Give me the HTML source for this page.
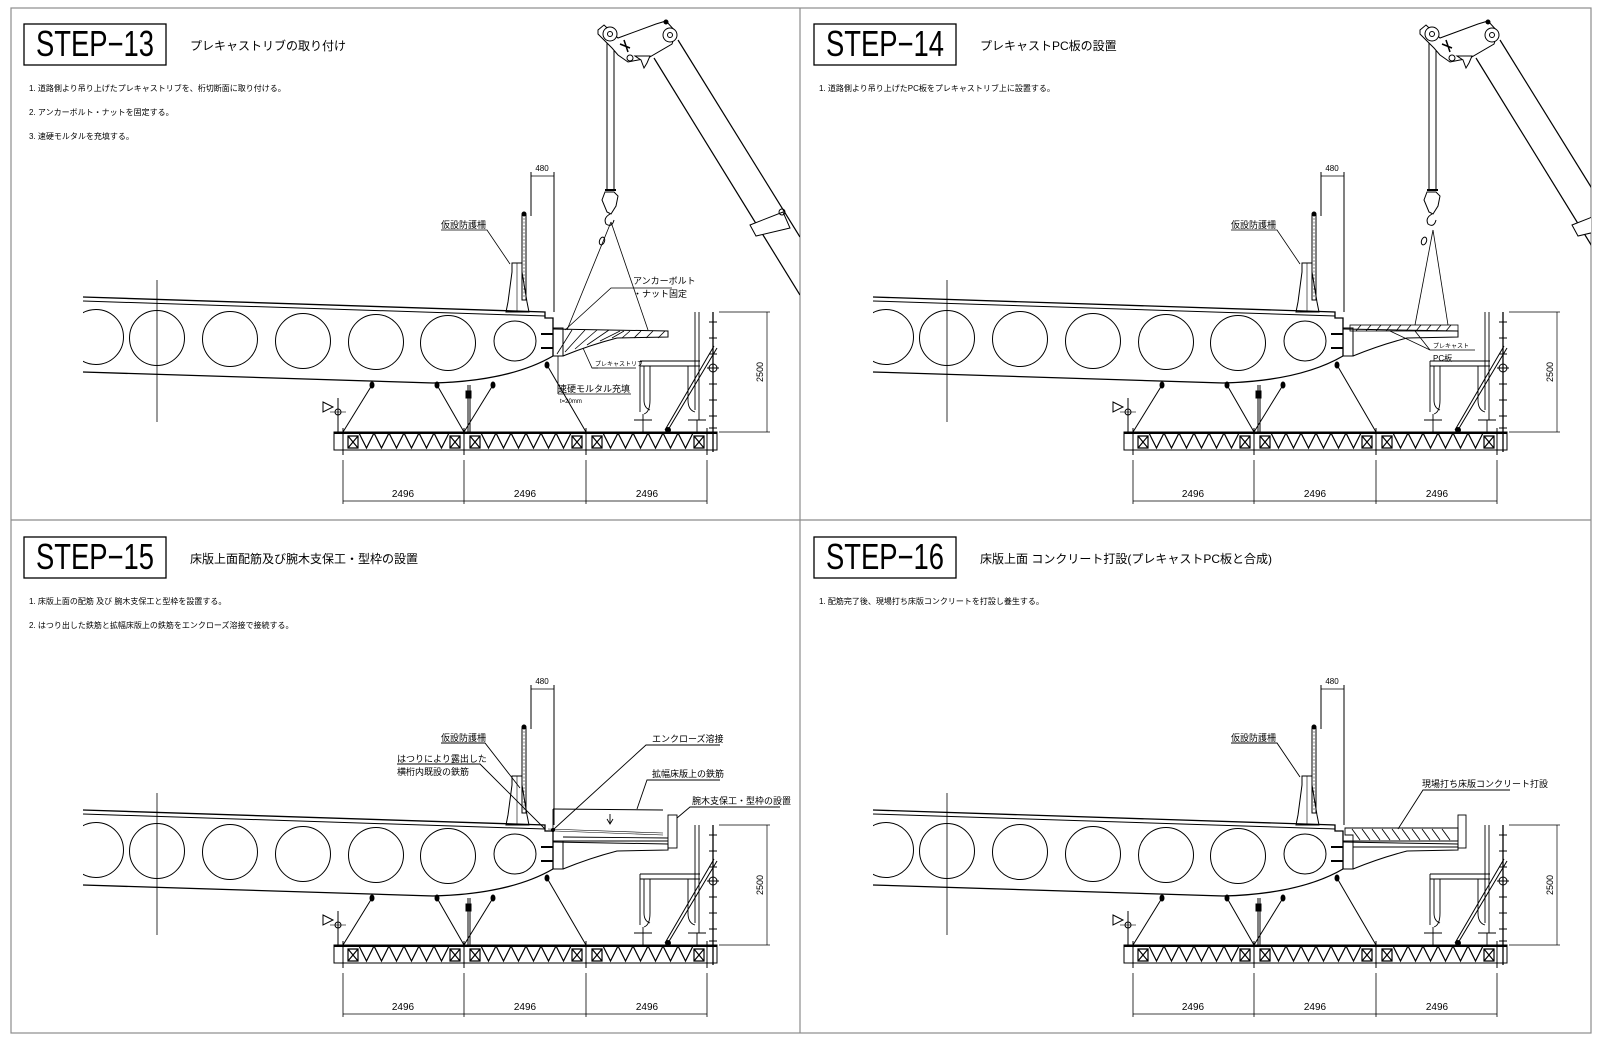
<!DOCTYPE html>
<html><head><meta charset="utf-8"><style>
html,body{margin:0;padding:0;background:#fff;}
svg{display:block;}
text{font-family:"Liberation Sans","Noto Sans CJK JP",sans-serif;fill:#000;}
.nar{font-family:"Liberation Sans Narrow","Liberation Sans",sans-serif;}
</style></head><body>
<svg width="1600" height="1045" viewBox="0 0 1600 1045" xmlns="http://www.w3.org/2000/svg">
<defs>
<clipPath id="c1"><rect x="11" y="8" width="789" height="512"/></clipPath>
<clipPath id="c2"><rect x="800" y="8" width="791" height="512"/></clipPath>
<clipPath id="c3"><rect x="11" y="520" width="789" height="513"/></clipPath>
<clipPath id="c4"><rect x="800" y="520" width="791" height="513"/></clipPath>
<clipPath id="gclip"><rect x="83" y="200" width="700" height="250"/></clipPath>
<g id="base" fill="none" stroke="#000" stroke-width="1">
  <!-- girder -->
  <path d="M83 297 L545 312 L545 318 L553 318 L553 356" stroke-width="1.3"/>
  <path d="M83 301 L545 316"/>
  <path d="M83 372 L433 383 Q510 381 553 356" stroke-width="1.3"/>
  <g clip-path="url(#gclip)">
    <circle cx="96" cy="337" r="27.5"/>
  </g>
  <circle cx="157" cy="338" r="27.5"/>
  <circle cx="230" cy="339" r="27.5"/>
  <circle cx="303" cy="341" r="27.5"/>
  <circle cx="376" cy="342" r="27.5"/>
  <circle cx="448" cy="343" r="27.5"/>
  <ellipse cx="515" cy="341" rx="21" ry="20"/>
  <line x1="157" y1="280" x2="157" y2="422" stroke-width="0.8"/>
  <!-- anchor stubs -->
  <line x1="541" y1="334" x2="553" y2="334" stroke-width="2"/>
  <line x1="541" y1="348" x2="553" y2="348" stroke-width="2"/>
  <!-- rib base block -->
  <path d="M553 328 L563 328 L563 356 L553 356"/>
  <path d="M553 329 L668 331 L668 337 L617 338 Q590 345 563 356"/>
  <!-- fence -->
  <path d="M506 312 L529 312 L527 302 L522 272 L522 263 L512 263 L512 272 L508 302 Z"/>
  <line x1="517" y1="263" x2="517" y2="312" stroke-width="0.6"/>
  <rect x="522" y="215" width="4" height="85" stroke-width="1"/>
  <circle cx="524" cy="214" r="2" fill="#000"/>
  <line x1="524" y1="218" x2="524" y2="298" stroke-width="0.5" stroke-dasharray="2 1.5"/>
  <!-- dim 480 -->
  <line x1="531" y1="172" x2="531" y2="216"/>
  <line x1="554" y1="172" x2="554" y2="312"/>
  <line x1="531" y1="176" x2="554" y2="176" stroke-width="0.7"/>
  <!-- hangers -->
  <line x1="372" y1="385" x2="343" y2="432"/>
  <line x1="437" y1="385" x2="464" y2="432"/>
  <line x1="493" y1="385" x2="464" y2="432"/>
  <line x1="547" y1="365" x2="586" y2="432"/>
  <line x1="468" y1="385" x2="468" y2="432"/>
  <line x1="470" y1="385" x2="470" y2="432"/>
  <ellipse cx="372" cy="385" rx="2" ry="3" fill="#000"/>
  <ellipse cx="437" cy="385" rx="2" ry="3" fill="#000"/>
  <ellipse cx="493" cy="385" rx="2" ry="3" fill="#000"/>
  <ellipse cx="547" cy="365" rx="2" ry="3" fill="#000"/>
  <rect x="466" y="391" width="5" height="7" fill="#000"/>
  <!-- left symbol -->
  <path d="M323 402 L333 407 L323 412 Z"/>
  <line x1="338" y1="398" x2="338" y2="432"/>
  <circle cx="338" cy="412" r="3"/>
  <line x1="330" y1="412" x2="346" y2="412" stroke-width="0.6"/>
  <!-- truss -->
  <rect x="334" y="432" width="383" height="18"/>
  <line x1="334" y1="433" x2="717" y2="433" stroke-width="2"/>
  <line x1="464" y1="428" x2="464" y2="455"/>
  <line x1="586" y1="428" x2="586" y2="455"/>
  <line x1="343" y1="428" x2="343" y2="455"/>
  <line x1="707" y1="428" x2="707" y2="455"/>
  <g stroke-width="1.2">
    <path d="M348 436 h10 v12 h-10 z M348 436 l10 12 M358 436 l-10 12"/>
    <path d="M450 436 h10 v12 h-10 z M450 436 l10 12 M460 436 l-10 12"/>
    <path d="M359 433 l7.5 15 l7.5 -15 l7.5 15 l7.5 -15 l7.5 15 l7.5 -15 l7.5 15 l7.5 -15 l7.5 15 l7.5 -15 l7.5 15 l7.5 -15"/>
    <path d="M470 436 h10 v12 h-10 z M470 436 l10 12 M480 436 l-10 12"/>
    <path d="M572 436 h10 v12 h-10 z M572 436 l10 12 M582 436 l-10 12"/>
    <path d="M481 433 l7.5 15 l7.5 -15 l7.5 15 l7.5 -15 l7.5 15 l7.5 -15 l7.5 15 l7.5 -15 l7.5 15 l7.5 -15 l7.5 15 l7.5 -15"/>
    <path d="M592 436 h10 v12 h-10 z M592 436 l10 12 M602 436 l-10 12"/>
    <path d="M694 436 h10 v12 h-10 z M694 436 l10 12 M704 436 l-10 12"/>
    <path d="M603 433 l7.5 15 l7.5 -15 l7.5 15 l7.5 -15 l7.5 15 l7.5 -15 l7.5 15 l7.5 -15 l7.5 15 l7.5 -15 l7.5 15 l7.5 -15"/>
  </g>
  <!-- dims 2496 -->
  <g stroke-width="0.8">
    <line x1="343" y1="460" x2="343" y2="504"/>
    <line x1="464" y1="460" x2="464" y2="504"/>
    <line x1="586" y1="460" x2="586" y2="504"/>
    <line x1="707" y1="460" x2="707" y2="504"/>
    <line x1="343" y1="501" x2="707" y2="501"/>
  </g>
  <!-- scaffold rail -->
  <line x1="713" y1="312" x2="713" y2="452" stroke-width="1.3"/>
  <path d="M709 322h8M709 338h8M709 354h8M709 384h8M709 400h8M709 416h8M709 428h8" stroke-width="1"/>
  <circle cx="713" cy="368" r="4"/>
  <line x1="707" y1="368" x2="719" y2="368"/>
  <!-- dim 2500 -->
  <line x1="719" y1="312" x2="770" y2="312" stroke-width="0.7"/>
  <line x1="719" y1="432" x2="770" y2="432" stroke-width="0.7"/>
  <line x1="767" y1="312" x2="767" y2="432" stroke-width="0.7"/>
  <!-- guard U frame -->
  <g stroke-width="0.9">
    <path d="M640 361 L700 361 M640 366 L700 366 M640 361 L640 412 M644 366 L644 400 Q644 408 650 410 M650 366 L650 400 Q650 412 644 414"/>
    <path d="M695 312 L695 410 M699 312 L699 420 M688 366 L688 400 Q688 410 695 412"/>
    <line x1="634" y1="420" x2="652" y2="420"/>
    <line x1="688" y1="420" x2="706" y2="420"/>
    <line x1="643" y1="414" x2="643" y2="432"/>
    <line x1="697" y1="420" x2="697" y2="432"/>
  </g>
  <!-- brace -->
  <line x1="717" y1="348" x2="668" y2="430" stroke-width="1"/>
  <line x1="714" y1="346" x2="665" y2="430" stroke-width="1"/>
  <circle cx="668" cy="430" r="2.5" fill="#000"/>
</g>
<g id="base-text">
  <text x="542" y="171" font-size="8" text-anchor="middle" class="nar">480</text>
  <text x="403" y="497" font-size="10" text-anchor="middle" class="nar">2496</text>
  <text x="525" y="497" font-size="10" text-anchor="middle" class="nar">2496</text>
  <text x="647" y="497" font-size="10" text-anchor="middle" class="nar">2496</text>
  <text x="0" y="0" font-size="9" text-anchor="middle" class="nar" transform="translate(763 372) rotate(-90)">2500</text>
</g>
<g id="crane" fill="none" stroke="#000" stroke-width="1">
  <line x1="607" y1="38" x2="607" y2="190"/>
  <line x1="614" y1="38" x2="614" y2="190"/>
  <line x1="605" y1="190" x2="616" y2="190" stroke-width="2"/>
  <path d="M605 192 L602 200 L607 212 L611 214 L616 206 L618 196 L614 192 Z"/>
  <path d="M610 214 Q603 218 606 224 Q612 228 614 220"/>
  <ellipse cx="602" cy="241" rx="2.5" ry="4" transform="rotate(20 602 241)"/>
  <path d="M678 40 L800 237" stroke-width="1.2"/>
  <path d="M654 58 L800 295" stroke-width="1.2"/>
  <path d="M598 30 L604 25 L618 38 L656 24 L666 21 L676 32 L672 44 L648 58 L628 62 L618 55 L612 48 L598 34 Z" fill="#fff"/>
  <circle cx="610" cy="34" r="7" fill="#fff"/>
  <circle cx="610" cy="34" r="2.5"/>
  <circle cx="670" cy="35" r="7" fill="#fff"/>
  <circle cx="670" cy="35" r="2.5"/>
  <circle cx="666" cy="22" r="2" fill="#000"/>
  <path d="M620 44 L630 48 M624 40 L628 52" stroke-width="1.5"/>
  <circle cx="630" cy="58" r="3"/>
  <path d="M635 56 L650 56 L647 63 L644 68 L641 60 Z" fill="#fff"/>
  <path d="M750 225 L783 212 L790 228 L756 236 Z" fill="#fff"/>
  <circle cx="782" cy="212" r="3"/>
</g>
</defs>

<!-- frame -->
<g fill="none" stroke="#8c8c8c" stroke-width="1.2">
  <rect x="11" y="8" width="1580" height="1025"/>
  <line x1="800" y1="8" x2="800" y2="1033"/>
  <line x1="11" y1="520" x2="1591" y2="520"/>
</g>

<!-- PANEL 1 -->
<g clip-path="url(#c1)">
  <rect x="24" y="24" width="142" height="41" fill="none" stroke="#000" stroke-width="1.3"/>
  <text x="36" y="56" font-size="36" class="nar" textLength="118" lengthAdjust="spacingAndGlyphs">STEP−13</text>
  <text x="190" y="50" font-size="12">プレキャストリブの取り付け</text>
  <text x="29" y="91" font-size="8">1.  道路側より吊り上げたプレキャストリブを、桁切断面に取り付ける。</text>
  <text x="29" y="115" font-size="8">2.  アンカーボルト・ナットを固定する。</text>
  <text x="29" y="139" font-size="8">3.  速硬モルタルを充填する。</text>
  <use href="#base"/>
  <use href="#base-text"/>
  <use href="#crane"/>
  <g fill="none" stroke="#000" stroke-width="0.8">
    <line x1="611" y1="222" x2="567" y2="330"/>
    <line x1="611" y1="222" x2="648" y2="330"/>
    <!-- hatching -->
    <path d="M557 354 L572 330 M565 352 L585 330 M575 349 L597 330 M587 345 L609 330 M600 341 L620 331 M612 338 L624 331 M622 338 L630 331 M634 338 L641 331 M646 338 L653 331 M658 338 L665 331"/>
    <!-- leaders -->
    <path d="M441 230 L487 230 L510 264"/>
    <path d="M672 288 L611 288 L565 330"/>
    <path d="M598 368 L592 368 L583 348"/>
    <line x1="592" y1="368" x2="636" y2="368"/>
    <path d="M558 394 L558 356"/>
    <line x1="558" y1="394" x2="631" y2="394"/>
  </g>
  <text x="441" y="228" font-size="9">仮設防護柵</text>
  <text x="633" y="284" font-size="9">アンカーボルト</text>
  <text x="633" y="297" font-size="9">・ナット固定</text>
  <text x="595" y="366" font-size="6">プレキャストリブ</text>
  <text x="558" y="392" font-size="9">速硬モルタル充填</text>
  <text x="560" y="403" font-size="6">t=20mm</text>
</g>

<!-- PANEL 2 -->
<g clip-path="url(#c2)">
  <g transform="translate(790 0)">
    <rect x="24" y="24" width="142" height="41" fill="none" stroke="#000" stroke-width="1.3"/>
    <text x="36" y="56" font-size="36" class="nar" textLength="118" lengthAdjust="spacingAndGlyphs">STEP−14</text>
    <text x="190" y="50" font-size="12">プレキャストPC板の設置</text>
    <text x="29" y="91" font-size="8">1.  道路側より吊り上げたPC板をプレキャストリブ上に設置する。</text>
    <use href="#base"/>
    <use href="#base-text"/>
    <g transform="translate(32 0)"><use href="#crane"/></g>
    <g fill="none" stroke="#000" stroke-width="0.8">
      <line x1="643" y1="230" x2="625" y2="325"/>
      <line x1="643" y1="230" x2="658" y2="325"/>
      <rect x="560" y="325" width="108" height="6"/>
      <path d="M566 331 L571 325 M576 331 L581 325 M586 331 L591 325 M596 331 L601 325 M606 331 L611 325 M616 331 L621 325 M626 331 L631 325 M636 331 L641 325 M646 331 L651 325 M656 331 L661 325"/>
      <path d="M685 350 L640 350 L600 331"/>
      <line x1="640" y1="350" x2="625" y2="331"/>
    </g>
    <text x="441" y="228" font-size="9">仮設防護柵</text>
    <path d="M441 230 L487 230 L510 264" fill="none" stroke="#000" stroke-width="0.8"/>
    <text x="643" y="348" font-size="6">プレキャスト</text>
    <text x="643" y="361" font-size="8">PC板</text>
  </g>
</g>

<!-- PANEL 3 -->
<g clip-path="url(#c3)">
  <g transform="translate(0 513)">
    <text x="36" y="56" font-size="36" class="nar" textLength="118" lengthAdjust="spacingAndGlyphs">STEP−15</text>
    <rect x="24" y="24" width="142" height="41" fill="none" stroke="#000" stroke-width="1.3"/>
    <text x="190" y="50" font-size="12">床版上面配筋及び腕木支保工・型枠の設置</text>
    <text x="29" y="91" font-size="8">1.  床版上面の配筋 及び 腕木支保工と型枠を設置する。</text>
    <text x="29" y="115" font-size="8">2.  はつり出した鉄筋と拡幅床版上の鉄筋をエンクローズ溶接で接続する。</text>
    <use href="#base"/>
    <use href="#base-text"/>
    <g fill="none" stroke="#000" stroke-width="0.9">
      <line x1="553" y1="296" x2="663" y2="297"/>
      <line x1="553" y1="296" x2="553" y2="318"/>
      <line x1="548" y1="316" x2="663" y2="320" stroke-width="0.6"/>
      <line x1="555" y1="318" x2="663" y2="322" stroke-width="0.6"/>
      <rect x="668" y="302" width="9" height="33"/>
      <line x1="563" y1="328" x2="668" y2="328"/>
      <line x1="563" y1="324" x2="668" y2="325"/>
      <line x1="610" y1="301" x2="610" y2="310"/>
      <path d="M607 306 L610 311 L613 306"/>
      <circle cx="553" cy="317" r="1.6" fill="#000"/>
      <path d="M441 230 L485 230 L520 275"/>
      <path d="M397 251 L480 251 L545 316"/>
      <path d="M720 232 L646 232 L554 316"/>
      <path d="M720 267 L647 267 L637 296"/>
      <path d="M780 294 L690 294 L677 305"/>
    </g>
    <text x="441" y="228" font-size="9">仮設防護柵</text>
    <text x="397" y="249" font-size="9">はつりにより露出した</text>
    <text x="397" y="262" font-size="9">横桁内既設の鉄筋</text>
    <text x="652" y="229" font-size="9">エンクローズ溶接</text>
    <text x="652" y="264" font-size="9">拡幅床版上の鉄筋</text>
    <text x="692" y="291" font-size="9">腕木支保工・型枠の設置</text>
  </g>
</g>

<!-- PANEL 4 -->
<g clip-path="url(#c4)">
  <g transform="translate(790 513)">
    <rect x="24" y="24" width="142" height="41" fill="none" stroke="#000" stroke-width="1.3"/>
    <text x="36" y="56" font-size="36" class="nar" textLength="118" lengthAdjust="spacingAndGlyphs">STEP−16</text>
    <text x="190" y="50" font-size="12">床版上面 コンクリート打設(プレキャストPC板と合成)</text>
    <text x="29" y="91" font-size="8">1.  配筋完了後、現場打ち床版コンクリートを打設し養生する。</text>
    <use href="#base"/>
    <use href="#base-text"/>
    <g fill="none" stroke="#000" stroke-width="0.9">
      <path d="M555 315 L668 315 L668 328 L563 328 L563 322 L555 322 Z"/>
      <path d="M562 316 L570 327 M572 316 L580 327 M582 316 L590 327 M592 316 L600 327 M602 316 L610 327 M612 316 L620 327 M622 316 L630 327 M632 316 L640 327 M642 316 L650 327 M652 316 L660 327"/>
      <rect x="668" y="302" width="8" height="33"/>
      <line x1="563" y1="334" x2="668" y2="334"/>
      <path d="M441 230 L487 230 L510 264"/>
      <path d="M720 277 L633 277 L608 316"/>
    </g>
    <text x="441" y="228" font-size="9">仮設防護柵</text>
    <text x="632" y="274" font-size="9">現場打ち床版コンクリート打設</text>
  </g>
</g>
</svg>
</body></html>
